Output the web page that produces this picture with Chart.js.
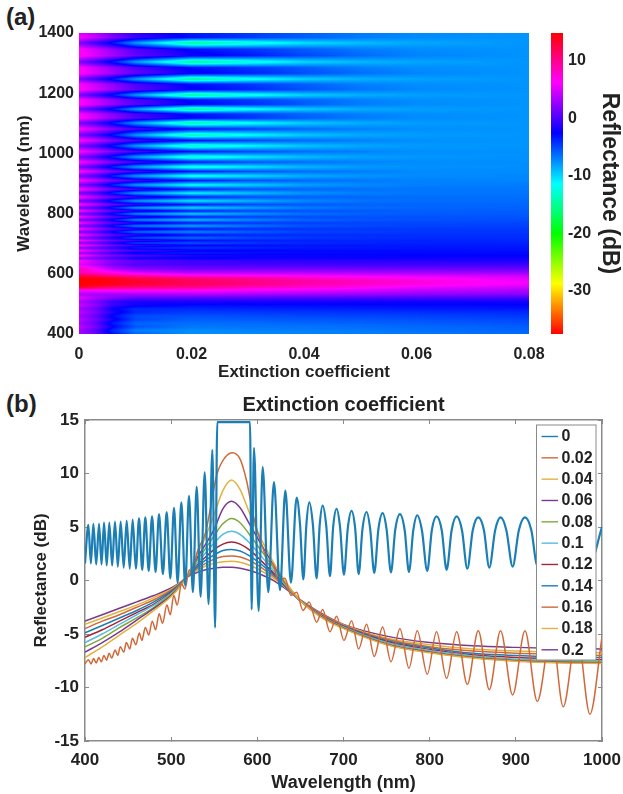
<!DOCTYPE html>
<html>
<head>
<meta charset="utf-8">
<script src="https://cdn.jsdelivr.net/npm/chart.js"></script>
<style>
    body { margin: 0; background: #fff; width: 623px; height: 794px; overflow: hidden; position: relative; }
    canvas { position: absolute; filter: blur(0.4px); }
    .panel-tag { position: absolute; font: bold 24px "Liberation Sans", sans-serif; color: #222; }
</style>
</head>
<body>
<div class="panel-tag" style="left:6px;top:3px">(a)</div>
<div class="panel-tag" style="left:6px;top:390px">(b)</div>
<canvas id="mapChart" width="550" height="390" style="left:0;top:0"></canvas>
<canvas id="barChart" width="82" height="390" style="left:541px;top:0"></canvas>
<canvas id="lineChart" width="623" height="404" style="left:0;top:390px"></canvas>

<script>
// Panel (a): reflectance map
const extinctionColumns = [0, 0.003, 0.006, 0.01, 0.02, 0.03, 0.04, 0.05, 0.06, 0.08];
const wavelengthRows = [
    400, 412, 424, 436, 448, 460, 472, 484, 496, 508, 520, 532, 545, 555, 565, 573, 585, 595, 605, 617, 630,
    644, 652, 660, 669, 677, 686, 694, 702, 711, 719, 729, 739, 749, 759, 769, 779, 789, 799, 809, 819, 830,
    842, 855, 868, 881, 895, 910, 925, 940, 955, 971, 988, 1006, 1025, 1043, 1061, 1081, 1101, 1117, 1131,
    1147, 1163, 1178, 1194, 1212, 1230, 1247, 1266, 1285, 1304, 1325, 1346, 1367, 1385, 1400
];
const reflectanceGrid = [
    [3.5, 1.0, -3.0, -6.0, -7.6, -7.4, -7.2, -7.0, -6.8, -6.3],
    [3.0, 0.5, -4.0, -7.0, -7.4, -7.1, -6.9, -6.7, -6.5, -6.0],
    [4.0, 1.5, -2.5, -5.5, -6.7, -6.6, -6.6, -6.4, -6.2, -5.8],
    [3.0, 0.5, -3.5, -6.0, -6.4, -6.3, -6.1, -6.0, -5.8, -5.4],
    [4.0, 1.5, -2.0, -5.0, -5.8, -5.7, -5.6, -5.5, -5.3, -5.0],
    [3.0, 0.5, -3.0, -5.2, -5.4, -5.2, -5.0, -4.9, -4.8, -4.5],
    [4.0, 2.0, -1.5, -4.0, -4.6, -4.5, -4.4, -4.3, -4.2, -4.0],
    [3.0, 1.0, -2.5, -4.0, -3.9, -3.7, -3.6, -3.5, -3.4, -3.3],
    [4.5, 2.5, -0.5, -2.0, -2.9, -2.9, -2.9, -2.8, -2.8, -2.7],
    [3.5, 1.5, -0.8, -1.8, -1.6, -1.7, -1.8, -1.9, -2.0, -2.0],
    [5.5, 3.5, 2.0, 1.0, 0.5, 0.3, 0.1, 0.0, -0.1, -0.2],
    [3.5, 3.0, 3.0, 3.0, 3.5, 3.2, 3.0, 2.7, 2.4, 2.0],
    [6.0, 6.0, 6.5, 6.5, 6.5, 5.8, 5.2, 4.7, 4.0, 3.3],
    [13.5, 12.0, 11.0, 10.5, 10.0, 8.5, 7.6, 6.6, 5.5, 4.5],
    [14.8, 14.6, 14.0, 13.0, 11.6, 10.5, 9.0, 8.0, 7.0, 5.5],
    [14.8, 14.7, 14.2, 13.5, 11.9, 10.7, 9.4, 8.4, 7.4, 5.8],
    [14.8, 14.5, 13.8, 12.5, 10.8, 9.6, 8.3, 7.3, 6.4, 5.2],
    [12.0, 10.8, 9.8, 8.5, 6.5, 6.0, 5.5, 5.0, 4.5, 4.0],
    [8.0, 7.4, 6.2, 4.5, 3.2, 3.3, 3.2, 3.0, 2.8, 2.4],
    [9.0, 6.0, 3.5, 2.0, 1.2, 1.2, 1.2, 1.1, 1.0, 0.8],
    [5.0, 3.5, 1.5, 0.2, -0.2, -0.3, -0.4, -0.4, -0.5, -0.5],
    [7.0, 4.0, 2.0, 0.5, -0.5, -1.0, -1.2, -1.4, -1.5, -1.8],
    [2.0, 1.0, -0.5, -2.5, -3.0, -2.6, -2.4, -2.4, -2.2, -2.2],
    [7.5, 4.2, 2.0, 0.5, -1.5, -2.0, -2.2, -2.4, -2.5, -2.6],
    [2.5, 1.0, -1.0, -3.5, -3.8, -3.2, -3.0, -3.0, -2.9, -2.9],
    [7.0, 4.0, 1.8, 0.0, -2.0, -2.6, -2.8, -2.9, -3.0, -3.1],
    [2.0, 0.5, -1.5, -4.0, -4.5, -3.8, -3.5, -3.4, -3.3, -3.3],
    [7.0, 4.0, 1.5, -0.5, -2.5, -3.0, -3.2, -3.3, -3.4, -3.5],
    [2.0, 0.5, -2.0, -5.0, -5.5, -4.5, -4.0, -3.8, -3.7, -3.7],
    [6.8, 3.8, 1.2, -0.5, -2.8, -3.5, -3.7, -3.8, -3.8, -3.9],
    [1.5, 0.0, -2.5, -5.5, -6.5, -5.2, -4.6, -4.3, -4.1, -4.1],
    [6.8, 3.6, 1.0, -0.8, -3.0, -3.8, -4.0, -4.1, -4.2, -4.2],
    [1.5, 0.0, -3.0, -6.5, -7.5, -6.0, -5.0, -4.7, -4.5, -4.4],
    [6.8, 3.6, 0.8, -1.0, -3.0, -4.0, -4.3, -4.4, -4.5, -4.5],
    [1.5, -0.2, -3.5, -7.0, -8.5, -6.8, -5.5, -5.1, -4.9, -4.8],
    [6.8, 3.6, 0.8, -1.0, -3.2, -4.3, -4.7, -4.9, -5.0, -5.0],
    [1.2, -0.2, -3.5, -7.5, -9.5, -7.5, -6.2, -5.6, -5.4, -5.3],
    [6.8, 3.6, 0.8, -0.8, -3.2, -4.6, -5.1, -5.3, -5.4, -5.5],
    [1.2, -0.5, -3.5, -7.5, -10.0, -8.0, -6.6, -6.0, -5.8, -5.7],
    [6.8, 3.6, 0.8, -0.8, -3.3, -4.8, -5.4, -5.6, -5.8, -5.8],
    [1.2, -0.5, -3.8, -8.0, -10.5, -8.5, -7.0, -6.4, -6.1, -6.0],
    [6.7, 3.8, 1.0, -0.6, -3.3, -5.0, -5.6, -5.9, -6.0, -6.1],
    [1.2, -0.5, -4.0, -8.0, -11.0, -9.0, -7.4, -6.7, -6.4, -6.3],
    [6.7, 3.8, 1.2, -0.5, -3.3, -5.0, -5.8, -6.1, -6.3, -6.4],
    [1.3, -0.5, -4.0, -8.0, -11.5, -9.5, -7.8, -7.0, -6.7, -6.6],
    [6.7, 4.0, 1.4, -0.3, -3.3, -5.2, -6.0, -6.4, -6.6, -6.7],
    [1.4, -0.5, -4.0, -8.0, -12.0, -10.0, -8.2, -7.4, -7.0, -6.9],
    [6.6, 4.0, 1.6, -0.2, -3.2, -5.2, -6.2, -6.7, -7.0, -7.2],
    [1.4, -0.5, -4.0, -8.0, -12.5, -10.5, -8.6, -7.8, -7.4, -7.3],
    [6.6, 4.2, 1.8, 0.0, -3.2, -5.2, -6.3, -6.9, -7.3, -7.4],
    [1.5, -0.5, -4.0, -8.0, -13.0, -10.8, -9.0, -8.0, -7.6, -7.5],
    [6.5, 4.2, 2.0, 0.0, -3.0, -5.2, -6.3, -7.0, -7.4, -7.5],
    [1.5, -0.5, -3.8, -8.0, -13.5, -11.0, -9.2, -8.2, -7.8, -7.6],
    [6.5, 4.2, 2.0, 0.0, -3.0, -5.0, -6.3, -7.0, -7.5, -7.6],
    [1.5, -0.5, -3.5, -8.0, -14.0, -11.5, -9.5, -8.4, -7.9, -7.7],
    [6.5, 4.4, 2.0, 0.0, -2.8, -4.8, -6.2, -7.0, -7.5, -7.7],
    [1.5, -0.5, -3.5, -8.0, -14.5, -11.8, -9.6, -8.5, -8.0, -7.7],
    [6.5, 4.4, 2.2, 0.0, -2.7, -4.6, -6.1, -7.0, -7.5, -7.7],
    [1.5, -0.5, -3.5, -8.0, -15.0, -12.0, -9.8, -8.6, -8.0, -7.7],
    [6.5, 4.5, 2.4, 0.2, -2.6, -4.2, -5.8, -6.8, -7.4, -7.7],
    [6.2, 4.2, 2.1, -0.2, -3.1, -4.6, -6.1, -7.0, -7.5, -7.7],
    [1.5, -0.8, -3.5, -8.0, -15.5, -12.2, -9.8, -8.6, -8.1, -7.7],
    [6.5, 4.6, 2.6, 0.4, -2.5, -4.0, -5.6, -6.8, -7.4, -7.7],
    [6.3, 4.3, 2.2, 0.0, -3.0, -4.5, -6.0, -7.0, -7.5, -7.7],
    [1.5, -0.8, -3.5, -8.0, -15.5, -12.5, -10.0, -8.7, -8.1, -7.7],
    [6.6, 4.7, 2.8, 0.5, -2.4, -3.8, -5.4, -6.6, -7.3, -7.7],
    [6.3, 4.3, 2.3, 0.0, -3.0, -4.4, -5.9, -7.0, -7.5, -7.7],
    [1.6, -0.8, -3.5, -8.0, -15.5, -12.5, -10.0, -8.8, -8.2, -7.7],
    [6.7, 4.8, 3.0, 0.8, -2.2, -3.6, -5.2, -6.4, -7.2, -7.7],
    [6.4, 4.4, 2.4, 0.0, -3.0, -4.4, -5.8, -6.9, -7.5, -7.7],
    [1.7, -0.8, -3.5, -8.0, -15.5, -13.0, -10.2, -9.0, -8.3, -7.7],
    [6.8, 5.0, 3.2, 1.0, -2.0, -3.4, -5.0, -6.2, -7.1, -7.7],
    [6.4, 4.4, 2.4, 0.0, -3.0, -4.3, -5.7, -6.8, -7.4, -7.7],
    [1.8, -0.8, -3.5, -8.0, -15.5, -13.0, -10.5, -9.2, -8.4, -7.7],
    [6.2, 4.2, 2.0, -0.5, -3.0, -4.5, -5.8, -6.8, -7.4, -7.7],
    [5.0, 3.5, 1.0, -1.2, -3.5, -4.6, -5.8, -6.8, -7.4, -7.7]
];

// Panel (a): colour bar
const colourMin = -37.5;
const colourMax = 14.8;
const colourStopValues = [-37.5, -28.8, -20.1, -11.4, -2.6, 6.1, 14.8];
const colourStops = ['#ff0000', '#ffff00', '#00ff00', '#00ffff', '#0000ff', '#ff00ff', '#ff0000'];

// Panel (b): legend order
const seriesLabels = ['0', '0.02', '0.04', '0.06', '0.08', '0.1', '0.12', '0.14', '0.16', '0.18', '0.2'];
const seriesColors = ['#1b7fb5', '#d0693a', '#e3b23c', '#7a3a8c', '#80a83c', '#58bce0', '#a3243c', '#1b7fb5', '#d0693a', '#e3b23c', '#7a3a8c'];

// k = 0, peaks and troughs, shoulders added where the arches are wide
const wavelengths0 = [
    400, 403.9, 406.8, 409.7, 413, 416.3, 419.2, 422.1, 425.2, 428.2, 431.5, 434.8, 438.1, 441.4, 444.9, 448.4,
    451.9, 455.3, 459, 462.7, 466.4, 470, 473.9, 477.8, 481.9, 485.9, 490.4, 494.8, 499, 503.3, 507.5, 511.8,
    516.3, 520.7, 525.2, 529.6, 534.2, 538.9, 543.4, 547.8, 551, 553.5, 570, 591.5, 593.4, 596.1, 601.5, 606.2,
    612.7, 619.3, 626.3, 632.5, 639, 645.6, 649.5, 653.4, 656.9, 660.3, 664.5, 668.8, 672.3, 675.8, 680, 684.3,
    688, 692, 696, 700.5, 705, 709.4, 713.5, 717.6, 722, 726.8, 731, 735.7, 740.5, 745.4, 750, 755.1,
    760, 765.5, 771, 776, 781, 785.6, 791, 797.2, 802.5, 808, 814, 819.7, 825.5, 831.3, 837.5, 843.7,
    850, 856.4, 863, 869.2, 876, 882.3, 889, 896.3, 903.5, 910.6, 918, 924.9, 941.5, 955, 971, 986, 1000
];
const reflectance0 = [
    1.6, 5.2, 1.6, 5.3, 1.5, 5.3, 1.5, 5.4, 1.4, 5.4, 1.4, 5.5, 1.3, 5.5, 1.2, 5.6,
    1.1, 5.7, 1.1, 5.8, 1.0, 5.9, 0.9, 6.0, 0.8, 6.2, 0.6, 6.4, 0.2, 6.8, -0.2, 7.3,
    -0.5, 7.9, -1.1, 8.75, -1.5, 10.1, -2.2, 12.2, -4.4, 14.8, 14.8, 14.8, -2.7, 12.4, -2.85, 10.6,
    -1.1, 9.2, -0.9, 8.4, -0.2, 7.75, 5.3, 0.1, 5.2, 7.3, 5.2, 0.2, 5.1, 7.0, 5.1, 0.4,
    5.0, 6.7, 5.0, 0.55, 4.9, 6.5, 4.9, 0.6, 4.8, 6.4, 4.8, 0.7, 4.8, 6.3, 4.8, 0.75,
    4.7, 6.2, 4.7, 0.8, 4.7, 6.1, 4.7, 0.9, 4.7, 6.0, 4.7, 1.0, 4.7, 6.0, 4.7, 1.1,
    4.7, 5.9, 4.7, 1.2, 4.7, 5.9, 4.7, 1.3, 4.7, 5.9, 4.7, 1.4, 5.8, 1.5, 5.8, 1.6, 5.0
];

// k = 0.02, ripple kept
const wavelengths002 = [
    400, 404, 407, 410, 413, 416, 419, 422, 425, 428, 431, 435, 438, 441, 445, 448, 452, 455, 459, 463, 466, 470,
    474, 478, 482, 486, 490, 495, 499, 503, 507, 512, 516, 521, 525, 530, 540, 545, 553, 562.5, 571, 580, 587.6,
    595, 600, 607, 613, 618, 624, 632, 639, 645.6, 653, 660, 668.8, 675.8, 684.3, 692, 700.5, 709.4, 717.6, 726.8,
    735.7, 745.4, 755.1, 765.5, 776, 785.6, 797.2, 808, 819.7, 831.3, 843.7, 856.4, 869.2, 882.3, 896.3, 910.6,
    924.9, 941.5, 955, 971, 986, 1000
];
const reflectance002 = [
    -7.8, -7.4, -7.8, -7.3, -7.7, -7.2, -7.6, -7.0, -7.45, -6.8, -7.25, -6.5, -7.0, -6.2, -6.7, -5.8, -6.4, -5.4, -6.0, -4.9, -5.6, -4.4,
    -5.1, -3.8, -4.6, -3.1, -4.0, -2.3, -3.2, -1.4, -2.3, -0.3, -0.8, 1.0, 0.6, 2.6, 4.5, 6.5, 9.9, 11.5, 11.95, 11.35, 9.3,
    6.2, 4.6, 2.9, 1.6, 1.6, 0.0, 0.2, -1.4, -1.1, -2.8, -2.0, -3.9, -2.7, -4.8, -3.35, -5.6, -3.75, -6.4, -4.1,
    -7.1, -4.35, -7.6, -4.5, -8.2, -4.7, -8.75, -4.8, -9.15, -4.8, -9.7, -4.7, -10.2, -4.7, -10.7, -4.7,
    -11.3, -4.7, -11.8, -4.8, -12.5, -5.3
];

// the higher k curves share one wavelength list
const curveWavelengths = [400, 420, 440, 460, 480, 500, 510, 518, 530, 540, 550, 560, 570, 580, 590, 600, 610, 620, 635, 650, 675, 700, 750, 800, 850, 900, 950, 1000];
const reflectance004 = [-7.2, -6.2, -5.1, -4.0, -2.8, -1.5, -0.6, 0.3, 2.4, 4.1, 6.2, 8.4, 9.4, 8.5, 6.5, 4.6, 3.0, 1.5, -0.4, -1.9, -3.5, -4.5, -6.0, -6.75, -7.25, -7.55, -7.7, -7.75];
const reflectance006 = [-6.7, -5.8, -4.8, -3.7, -2.6, -1.4, -0.55, 0.3, 2.1, 3.4, 4.8, 6.7, 7.4, 6.8, 5.4, 4.0, 2.6, 1.3, -0.45, -1.9, -3.45, -4.45, -5.95, -6.7, -7.2, -7.5, -7.65, -7.7];
const reflectance008 = [-6.2, -5.4, -4.4, -3.5, -2.5, -1.3, -0.5, 0.3, 1.85, 3.0, 4.2, 5.3, 5.8, 5.4, 4.4, 3.3, 2.2, 1.05, -0.55, -1.9, -3.4, -4.4, -5.9, -6.65, -7.15, -7.45, -7.55, -7.65];
const reflectance010 = [-5.8, -5.0, -4.1, -3.2, -2.3, -1.2, -0.45, 0.3, 1.6, 2.6, 3.5, 4.3, 4.6, 4.3, 3.6, 2.7, 1.75, 0.8, -0.65, -1.9, -3.35, -4.35, -5.8, -6.55, -7.05, -7.35, -7.45, -7.55];
const reflectance012 = [-5.3, -4.6, -3.8, -3.0, -2.2, -1.1, -0.4, 0.3, 1.45, 2.2, 2.9, 3.4, 3.6, 3.4, 2.9, 2.2, 1.4, 0.6, -0.7, -1.9, -3.3, -4.3, -5.7, -6.45, -6.95, -7.2, -7.3, -7.4];
const reflectance014 = [-4.9, -4.2, -3.5, -2.8, -2.0, -1.0, -0.35, 0.3, 1.25, 1.9, 2.4, 2.8, 2.9, 2.75, 2.35, 1.8, 1.15, 0.45, -0.75, -1.9, -3.3, -4.25, -5.6, -6.3, -6.8, -7.0, -7.15, -7.2];
const reflectance016 = [-4.5, -3.8, -3.2, -2.5, -1.8, -0.9, -0.3, 0.3, 1.1, 1.6, 2.0, 2.25, 2.3, 2.2, 1.9, 1.45, 0.9, 0.3, -0.8, -1.9, -3.2, -4.2, -5.5, -6.2, -6.6, -6.8, -6.9, -7.0];
const reflectance018 = [-4.1, -3.5, -2.9, -2.3, -1.6, -0.8, -0.25, 0.3, 0.95, 1.35, 1.6, 1.75, 1.8, 1.7, 1.45, 1.1, 0.65, 0.15, -0.8, -1.85, -3.2, -4.15, -5.4, -6.0, -6.4, -6.6, -6.7, -6.75];
const reflectance020 = [-3.8, -3.2, -2.6, -2.0, -1.4, -0.7, -0.2, 0.3, 0.75, 1.0, 1.15, 1.25, 1.25, 1.15, 0.95, 0.7, 0.35, -0.05, -0.9, -1.8, -3.1, -4.1, -5.2, -5.8, -6.1, -6.25, -6.35, -6.4];

const boldFont = size => ({ family: '"Liberation Sans", Arial, sans-serif', weight: 'bold', size: size });
const inkColor = '#222';
const frameColor = '#8a8a8a';
const plainNumber = v => String(+Number(v).toFixed(2));

function fixAxis(size) {
    return axis => {
        if (axis.isHorizontal()) axis.height = size; else axis.width = size;
        axis.paddingLeft = axis.paddingRight = axis.paddingTop = axis.paddingBottom = 0;
    };
}

// flipped hsv map, same one the colour bar shows
function colourFor(value) {
    const t = Math.min(1, Math.max(0, (value - colourMin) / (colourMax - colourMin))) * 6;
    const i = Math.min(5, Math.floor(t));
    const f = t - i;
    const table = [[255, 255 * f, 0], [255 * (1 - f), 255, 0], [0, 255, 255 * f], [0, 255 * (1 - f), 255], [255 * f, 0, 255], [255, 0, 255 * (1 - f)]];
    return table[i];
}

function findSpan(list, value) {
    let i = 0;
    while (i < list.length - 2 && list[i + 1] < value) i++;
    const f = (value - list[i]) / (list[i + 1] - list[i]);
    return [i, Math.min(1, Math.max(0, f))];
}

// paints the grid in dataset 0 with interpolated shading, placed with the chart scales
const shadedMap = {
    id: 'shadedMap',
    beforeDatasetsDraw(chart) {
        const { ctx, chartArea, scales } = chart;
        const w = Math.round(chartArea.right - chartArea.left);
        const h = Math.round(chartArea.bottom - chartArea.top);
        const image = ctx.createImageData(w, h);
        for (let py = 0; py < h; py++) {
            const [r, fr] = findSpan(wavelengthRows, scales.y.getValueForPixel(chartArea.top + py + 0.5));
            for (let px = 0; px < w; px++) {
                const [c, fc] = findSpan(extinctionColumns, scales.x.getValueForPixel(chartArea.left + px + 0.5));
                const low = reflectanceGrid[r][c] * (1 - fc) + reflectanceGrid[r][c + 1] * fc;
                const high = reflectanceGrid[r + 1][c] * (1 - fc) + reflectanceGrid[r + 1][c + 1] * fc;
                const rgb = colourFor(low * (1 - fr) + high * fr);
                const o = (py * w + px) * 4;
                image.data[o] = rgb[0];
                image.data[o + 1] = rgb[1];
                image.data[o + 2] = rgb[2];
                image.data[o + 3] = 255;
            }
        }
        ctx.putImageData(image, Math.round(chartArea.left), Math.round(chartArea.top));
    }
};

const mapCells = [];
wavelengthRows.forEach((wl, r) => {
    extinctionColumns.forEach((k, c) => mapCells.push({ x: k, y: wl, v: reflectanceGrid[r][c] }));
});

new Chart(document.getElementById('mapChart').getContext('2d'), {
    type: 'scatter',
    data: { datasets: [{ label: 'Reflectance', data: mapCells, pointRadius: 0, showLine: false }] },
    options: {
        responsive: false,
        animation: false,
        layout: { padding: { top: 33, right: 21, left: 0, bottom: 0 } },
        plugins: { legend: { display: false }, tooltip: { enabled: false } },
        scales: {
            x: {
                type: 'linear', min: 0, max: 0.08, afterFit: fixAxis(56),
                grid: { display: false, drawTicks: false }, border: { display: false },
                ticks: { stepSize: 0.02, padding: 11, maxRotation: 0, color: inkColor, font: boldFont(16), callback: plainNumber },
                title: { display: true, text: 'Extinction coefficient', color: inkColor, font: boldFont(17), padding: { top: 0, bottom: 7 } }
            },
            y: {
                type: 'linear', min: 400, max: 1400, afterFit: fixAxis(79),
                grid: { display: false, drawTicks: false }, border: { display: false },
                ticks: { stepSize: 200, padding: 5, color: inkColor, font: boldFont(16), callback: plainNumber },
                title: { display: true, text: 'Wavelength (nm)', color: inkColor, font: boldFont(17), padding: { top: 14, bottom: 0 } }
            }
        }
    },
    plugins: [shadedMap]
});

new Chart(document.getElementById('barChart').getContext('2d'), {
    type: 'bar',
    data: {
        labels: ['Reflectance (dB)'],
        datasets: [{
            data: [[colourMin, colourMax]],
            barPercentage: 1,
            categoryPercentage: 1,
            backgroundColor(context) {
                const { chart } = context;
                if (!chart.chartArea) return '#00f';
                const gradient = chart.ctx.createLinearGradient(0, chart.scales.y.getPixelForValue(colourMin), 0, chart.scales.y.getPixelForValue(colourMax));
                colourStopValues.forEach((value, i) => gradient.addColorStop((value - colourMin) / (colourMax - colourMin), colourStops[i]));
                return gradient;
            }
        }]
    },
    options: {
        responsive: false,
        animation: false,
        layout: { padding: { top: 33, bottom: 56, left: 10, right: 0 } },
        plugins: { legend: { display: false }, tooltip: { enabled: false } },
        scales: {
            x: { display: false },
            y: {
                position: 'right', min: colourMin, max: colourMax, afterFit: fixAxis(60),
                grid: { display: false, drawTicks: false }, border: { display: false },
                ticks: { stepSize: 10, includeBounds: false, padding: 5, color: inkColor, font: boldFont(16) },
                title: { display: true, text: 'Reflectance (dB)', color: inkColor, font: boldFont(23), padding: { top: 0, bottom: 1 } }
            }
        }
    }
});

// Panel (b) legend sits on top of the curves
const boxLegend = {
    id: 'boxLegend',
    afterDatasetsDraw(chart) {
        const { ctx } = chart;
        const left = 536.5, top = 35, width = 59.5, height = 235, rowHeight = 21.33;
        ctx.save();
        ctx.fillStyle = '#fff';
        ctx.strokeStyle = frameColor;
        ctx.lineWidth = 1;
        ctx.fillRect(left, top, width, height);
        ctx.strokeRect(left, top, width, height);
        ctx.font = 'bold 16px "Liberation Sans", Arial, sans-serif';
        ctx.textBaseline = 'middle';
        chart.data.datasets.forEach((set, i) => {
            const y = top + 11.5 + i * rowHeight;
            ctx.strokeStyle = set.borderColor;
            ctx.lineWidth = 1.4;
            ctx.beginPath();
            ctx.moveTo(left + 5, y);
            ctx.lineTo(left + 21.5, y);
            ctx.stroke();
            ctx.fillStyle = inkColor;
            ctx.fillText(set.label, left + 25, y + 0.5);
        });
        ctx.restore();
    }
};

const toPoints = (xs, ys) => xs.map((x, i) => ({ x: x, y: ys[i] }));
const curveValues = [reflectance0, reflectance002, reflectance004, reflectance006, reflectance008, reflectance010, reflectance012, reflectance014, reflectance016, reflectance018, reflectance020];
const curveDatasets = seriesLabels.map((label, i) => ({
    label: label,
    data: toPoints(i === 0 ? wavelengths0 : i === 1 ? wavelengths002 : curveWavelengths, curveValues[i]),
    borderColor: seriesColors[i],
    borderWidth: i === 0 ? 2.2 : 1.5,
    pointRadius: 0,
    cubicInterpolationMode: 'monotone'
}));

const frameGrid = { drawOnChartArea: false, tickLength: -4, tickColor: frameColor, tickWidth: 1 };
const frameBorder = { color: frameColor, width: 1.5 };

new Chart(document.getElementById('lineChart').getContext('2d'), {
    type: 'line',
    data: { datasets: curveDatasets },
    options: {
        responsive: false,
        animation: false,
        layout: { padding: { top: 0, right: 21, left: 0, bottom: 0 } },
        plugins: {
            legend: { display: false },
            tooltip: { enabled: false },
            title: { display: true, text: 'Extinction coefficient', color: inkColor, font: boldFont(20), fullSize: false, padding: { top: 3, bottom: 3 } }
        },
        scales: {
            x: {
                type: 'linear', min: 400, max: 1000, afterFit: fixAxis(53),
                grid: frameGrid, border: frameBorder,
                ticks: { stepSize: 100, padding: 13, maxRotation: 0, color: inkColor, font: boldFont(17), callback: plainNumber },
                title: { display: true, text: 'Wavelength (nm)', color: inkColor, font: boldFont(18), padding: { top: 0, bottom: 0 } }
            },
            xTop: {
                type: 'linear', position: 'top', min: 400, max: 1000, afterFit: fixAxis(0),
                grid: frameGrid, border: frameBorder,
                ticks: { stepSize: 100, display: false }
            },
            y: {
                type: 'linear', min: -15, max: 15, afterFit: fixAxis(85),
                grid: frameGrid, border: frameBorder,
                ticks: { stepSize: 5, padding: 10, color: inkColor, font: boldFont(17) },
                title: { display: true, text: 'Reflectance (dB)', color: inkColor, font: boldFont(17), padding: { top: 31, bottom: 0 } }
            },
            yRight: {
                type: 'linear', position: 'right', min: -15, max: 15, afterFit: fixAxis(0),
                grid: frameGrid, border: frameBorder,
                ticks: { stepSize: 5, display: false }
            }
        }
    },
    plugins: [boxLegend]
});
</script>
</body>
</html>
